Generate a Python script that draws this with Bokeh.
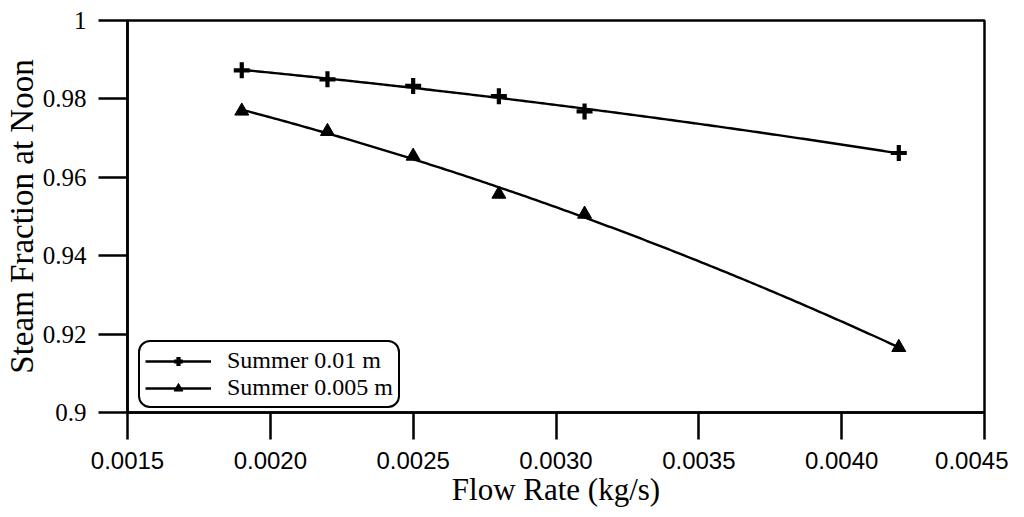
import numpy as np
from bokeh.plotting import figure
from bokeh.models import Range1d, FixedTicker, NumeralTickFormatter, Legend, LegendItem
from bokeh.embed import file_html
from bokeh.resources import INLINE

# ---- data ----
flow_rate = [0.0019, 0.0022, 0.0025, 0.0028, 0.0031, 0.0042]
summer_001 = [0.9873, 0.9850, 0.9833, 0.9807, 0.9768, 0.9662]
summer_0005 = [0.9769, 0.9717, 0.9654, 0.9557, 0.9506, 0.9166]
series_names = ["Summer 0.01 m", "Summer 0.005 m"]

x_ticks = [0.0015, 0.0020, 0.0025, 0.0030, 0.0035, 0.0040, 0.0045]
y_ticks = [0.9, 0.92, 0.94, 0.96, 0.98, 1.0]
y_tick_labels = ["0.9", "0.92", "0.94", "0.96", "0.98", "1"]

SERIF = "Liberation Serif"
SANS = "Liberation Sans"

p = figure(width=1008, height=509, output_backend="svg", toolbar_location=None,
           x_range=Range1d(0.0015, 0.0045), y_range=Range1d(0.9, 1.0),
           min_border_left=126, min_border_right=24, min_border_top=20, min_border_bottom=95)

p.xgrid.visible = False
p.ygrid.visible = False
p.background_fill_color = "white"
p.border_fill_color = "white"
p.outline_line_color = "black"
p.outline_line_width = 2.5
p.outline_line_alpha = 1.0

# axes
for ax in (p.xaxis[0], p.yaxis[0]):
    ax.axis_line_width = 2.5
    ax.axis_line_color = "black"
    ax.major_tick_line_width = 2.5
    ax.major_tick_line_color = "black"
    ax.major_tick_in = 0
    ax.minor_tick_line_color = None
    ax.axis_label_text_font = SERIF
    ax.axis_label_text_font_style = "normal"
    ax.axis_label_text_color = "black"
    ax.major_label_text_color = "black"

p.xaxis.ticker = FixedTicker(ticks=x_ticks)
p.xaxis.formatter = NumeralTickFormatter(format="0.0000")
p.xaxis.major_tick_out = 27
p.xaxis.major_label_standoff = 12
p.xaxis.major_label_text_font = SANS
p.xaxis.major_label_text_font_size = "24px"
p.xaxis.axis_label = "Flow Rate (kg/s)"
p.xaxis.axis_label_text_font_size = "31px"
p.xaxis.axis_label_standoff = 0

p.yaxis.ticker = FixedTicker(ticks=y_ticks)
p.yaxis.major_label_overrides = {t: l for t, l in zip(y_ticks, y_tick_labels)}
p.yaxis.major_tick_out = 29
p.yaxis.major_label_standoff = 12
p.yaxis.major_label_text_font = SERIF
p.yaxis.major_label_text_font_size = "25px"
p.yaxis.axis_label = "Steam Fraction at Noon"
p.yaxis.axis_label_text_font_size = "33px"
p.yaxis.axis_label_standoff = 0

# smooth trend curves fitted to the read points
xs_fit = np.linspace(min(flow_rate), max(flow_rate), 200)
fit1 = np.polyval(np.polyfit(flow_rate, summer_001, 2), xs_fit)
fit2 = np.polyval(np.polyfit(flow_rate, summer_0005, 2), xs_fit)

l1 = p.line(xs_fit, fit1, line_color="black", line_width=2.4)
m1 = p.scatter(flow_rate, summer_001, marker="cross", size=16, line_color="black", line_width=4.2)
l2 = p.line(xs_fit, fit2, line_color="black", line_width=2.4)
m2 = p.scatter(flow_rate, summer_0005, marker="triangle", size=14, fill_color="black", line_color="black")

legend = Legend(items=[LegendItem(label=series_names[0], renderers=[l1, m1]),
                       LegendItem(label=series_names[1], renderers=[l2, m2])],
                location=(11, 4))
legend.label_text_font = SERIF
legend.label_text_font_size = "24px"
legend.label_text_color = "black"
legend.glyph_width = 66
legend.glyph_height = 22
legend.label_height = 22
legend.label_standoff = 16
legend.spacing = 0
legend.padding = 5
legend.margin = 0
legend.border_line_color = "black"
legend.border_line_width = 2
legend.border_line_alpha = 1.0
legend.background_fill_alpha = 1.0
try:
    legend.border_radius = 12
except Exception:
    pass
p.add_layout(legend, "center")

open("out.html", "w").write(file_html(p, INLINE))
